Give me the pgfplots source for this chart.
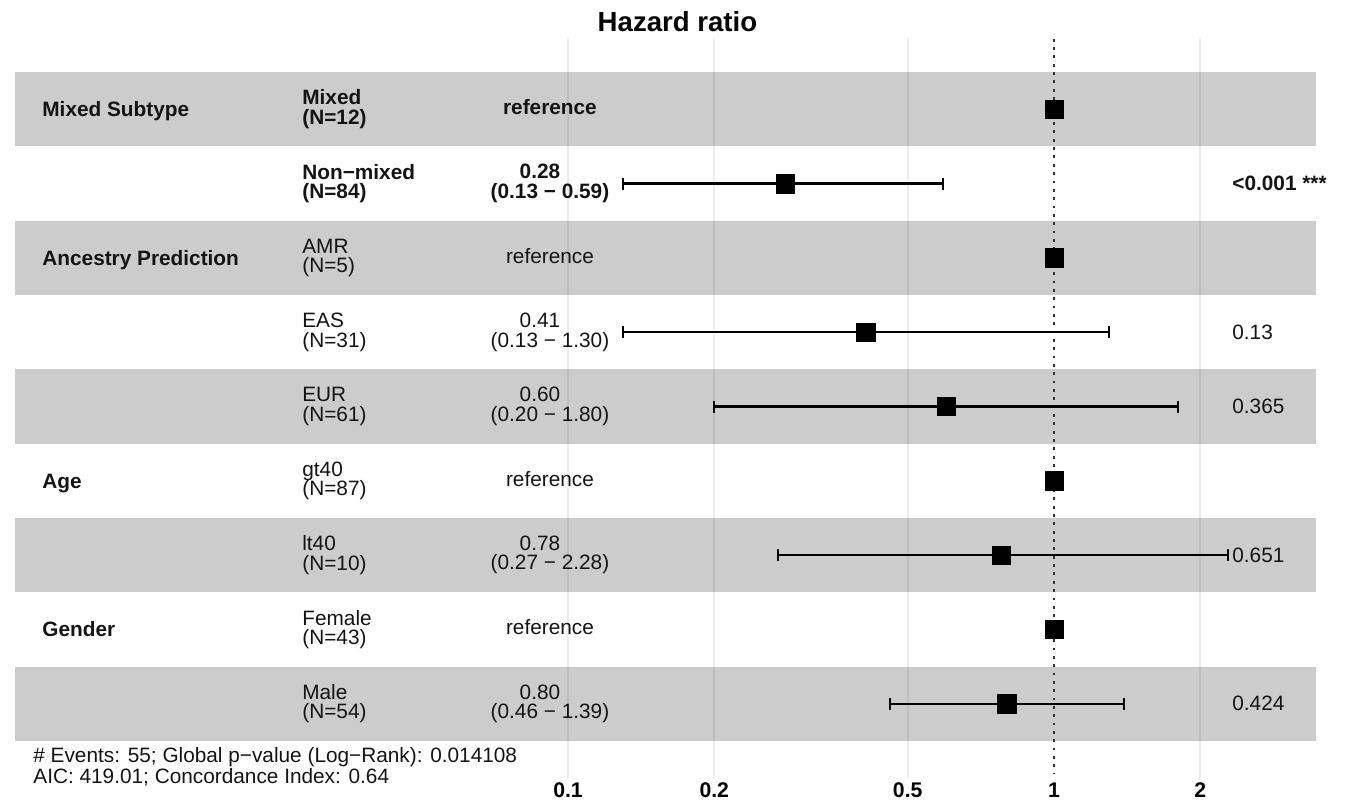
\documentclass[border=0pt]{standalone}
\usepackage{fontspec}
\setmainfont{Liberation Sans}
\usepackage{pgfplots}
\pgfplotsset{compat=1.18}
\definecolor{band}{RGB}{204,204,204}
\definecolor{txt}{RGB}{20,20,20}
\tikzset{
  lab/.style={font=\fontsize{10.4}{9.75}\selectfont, inner sep=0pt, text=txt},
  grp/.style={lab, font=\bfseries\fontsize{10.4}{9.75}\selectfont, anchor=base west, yshift=-3.6pt},
  lvl/.style={lab, anchor=west, align=left},
  est/.style={lab, anchor=center, align=center},
  refx/.style={lab, anchor=mid},
  pv/.style={lab, anchor=west},
  bld/.style={font=\bfseries\fontsize{10.4}{9.75}\selectfont},
  ci/.style={black, line width=1.2pt, mark=|, mark size=3pt, mark options={line width=1pt}},
  grd/.style={black, opacity=0.07, line width=0.8pt},
}
\newcommand{\sh}{\hspace*{10pt}}
\begin{document}
\lineskiplimit=-20pt
\begin{tikzpicture}
\useasboundingbox (-7.5pt,-12pt) rectangle (665.5pt,389pt);
\begin{axis}[
  at={(0,0)}, anchor=south west,
  scale only axis, width=650.5pt, height=370pt,
  xmode=log, xmin=0.007279, xmax=3.460,
  ymin=0.04, ymax=10.0, y dir=reverse,
  clip=false,
  axis line style={draw=none}, tick style={draw=none},
  ytick=\empty,
  xtick={0.1,0.2,0.5,1,2},
  xticklabels={0.1,0.2,0.5,1,2},
  xticklabel style={font=\bfseries\fontsize{10.6}{12}\selectfont, anchor=base, inner sep=0pt, yshift=-9.5pt},
]
% bands
\fill[band] (axis cs:0.007279,0.5) rectangle (axis cs:3.460,1.5);
\fill[band] (axis cs:0.007279,2.5) rectangle (axis cs:3.460,3.5);
\fill[band] (axis cs:0.007279,4.5) rectangle (axis cs:3.460,5.5);
\fill[band] (axis cs:0.007279,6.5) rectangle (axis cs:3.460,7.5);
\fill[band] (axis cs:0.007279,8.5) rectangle (axis cs:3.460,9.5);
% grid
\draw[grd] (axis cs:0.1,0.04) -- (axis cs:0.1,10.0);
\draw[grd] (axis cs:0.2,0.04) -- (axis cs:0.2,10.0);
\draw[grd] (axis cs:0.5,0.04) -- (axis cs:0.5,10.0);
\draw[grd] (axis cs:2,0.04) -- (axis cs:2,10.0);
\draw[black!80, line width=1.4pt, dash pattern=on 1.4pt off 2.77pt] (axis cs:1,0.05) -- (axis cs:1,9.95);
% confidence intervals
\addplot[ci] coordinates {(0.13,2) (0.59,2)};
\addplot[ci] coordinates {(0.13,4) (1.30,4)};
\addplot[ci] coordinates {(0.20,5) (1.80,5)};
\addplot[ci] coordinates {(0.27,7) (2.28,7)};
\addplot[ci] coordinates {(0.46,9) (1.39,9)};
% point estimates
\addplot[only marks, mark=square*, mark size=4.6pt, mark options={fill=black, draw=black, line width=0.3pt}] coordinates {
  (1,1) (0.28,2) (1,3) (0.41,4) (0.60,5) (1,6) (0.78,7) (1,8) (0.80,9)
};
% title
\node[anchor=base, font=\bfseries\fontsize{13.8}{16}\selectfont, inner sep=0pt] at (axis cs:0.168,-0.043) {Hazard ratio};
% group names
\node[grp] at (axis cs:0.008273,1) {Mixed Subtype};
\node[grp] at (axis cs:0.008273,3) {Ancestry Prediction};
\node[grp] at (axis cs:0.008273,6) {Age};
\node[grp] at (axis cs:0.008273,8) {Gender};
% levels
\node[lvl, bld] at (axis cs:0.02835,1) {Mixed\\(N=12)};
\node[lvl, bld] at (axis cs:0.02835,2) {Non−mixed\\(N=84)};
\node[lvl] at (axis cs:0.02835,3) {AMR\\(N=5)};
\node[lvl] at (axis cs:0.02835,4) {EAS\\(N=31)};
\node[lvl] at (axis cs:0.02835,5) {EUR\\(N=61)};
\node[lvl] at (axis cs:0.02835,6) {gt40\\(N=87)};
\node[lvl] at (axis cs:0.02835,7) {lt40\\(N=10)};
\node[lvl] at (axis cs:0.02835,8) {Female\\(N=43)};
\node[lvl] at (axis cs:0.02835,9) {Male\\(N=54)};
% estimates
\node[refx, bld] at (axis cs:0.0918,1) {reference};
\node[est, bld] at (axis cs:0.0918,2) {0.28\sh\\(0.13 − 0.59)};
\node[refx] at (axis cs:0.0918,3) {reference};
\node[est] at (axis cs:0.0918,4) {0.41\sh\\(0.13 − 1.30)};
\node[est] at (axis cs:0.0918,5) {0.60\sh\\(0.20 − 1.80)};
\node[refx] at (axis cs:0.0918,6) {reference};
\node[est] at (axis cs:0.0918,7) {0.78\sh\\(0.27 − 2.28)};
\node[refx] at (axis cs:0.0918,8) {reference};
\node[est] at (axis cs:0.0918,9) {0.80\sh\\(0.46 − 1.39)};
% p-values
\node[pv, bld] at (axis cs:2.324,2) {<0.001 ***};
\node[pv] at (axis cs:2.324,4) {0.13};
\node[pv] at (axis cs:2.324,5) {0.365};
\node[pv] at (axis cs:2.324,7) {0.651};
\node[pv] at (axis cs:2.324,9) {0.424};
% footnote
\node[lab, anchor=base west] at (axis cs:0.007928,9.794) {\# Events: 55; Global p−value (Log−Rank): 0.014108};
\node[lab, anchor=base west] at (axis cs:0.007928,10.075) {AIC: 419.01; Concordance Index: 0.64};
\end{axis}
\end{tikzpicture}
\end{document}
